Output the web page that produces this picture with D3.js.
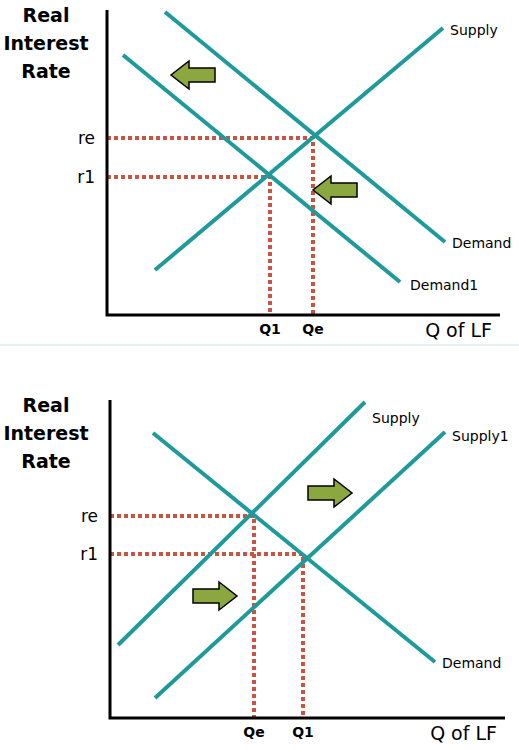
<!DOCTYPE html>
<html><head><meta charset="utf-8">
<script src="https://cdn.jsdelivr.net/npm/d3@7"></script>
<style>body{margin:0;background:#fff}text{font-family:"DejaVu Sans",sans-serif}</style>
</head><body>
<svg id="chart" width="519" height="750"></svg>
<script>
// curves: [name, x1, y1, x2, y2, labelX, labelY] in axis units
var topCurves = [["Supply",48,45,336,287,343,285],["Demand",58,303,338,73,345,72],["Demand1",16,260,293,33,303,30]];
var topPoints = [["re","Qe",206,177],["r1","Q1",163,138]];
var topArrows = [[86,240,-1],[228,125,-1]];

var botCurves = [["Supply",8,73,255,316,262,300],["Supply1",45,20,335,286,342,282],["Demand",43,285,325,56,332,55]];
var botPoints = [["re","Qe",144,202],["r1","Q1",193,164]];
var botArrows = [[220,225,1],[105,122,1]];

var svg = d3.select("#chart");
var teal = "#1f9a9c", red = "#c8553f", green = "#8aa83f";

svg.append("line").attr("x1",0).attr("x2",519).attr("y1",345).attr("y2",345).attr("stroke","#cfe4ec");

function panel(ox, oy, top, right, curves, points, arrows){
	var x = d3.scaleLinear().domain([0, right-ox]).range([ox, right]);
	var y = d3.scaleLinear().domain([0, oy-top]).range([oy, top]);
	var g = svg.append("g");

	g.append("text").attr("x",46).attr("y",top+12).attr("text-anchor","middle").attr("font-weight","bold").attr("font-size",19).text("Real");
	g.append("text").attr("x",46).attr("y",top+40).attr("text-anchor","middle").attr("font-weight","bold").attr("font-size",19).text("Interest");
	g.append("text").attr("x",46).attr("y",top+68).attr("text-anchor","middle").attr("font-weight","bold").attr("font-size",19).text("Rate");

	points.forEach(function(p){
		g.append("path").attr("d","M"+ox+","+y(p[3])+"H"+x(p[2])+"V"+oy)
			.attr("fill","none").attr("stroke",red).attr("stroke-width",4).attr("stroke-dasharray","4,3");
		g.append("text").attr("x",ox-12).attr("y",y(p[3])+6).attr("text-anchor","end").attr("font-size",17).text(p[0]);
		g.append("text").attr("x",x(p[2])).attr("y",oy+19).attr("text-anchor","middle").attr("font-size",14).attr("font-weight","bold").text(p[1]);
	});

	curves.forEach(function(c){
		g.append("line").attr("x1",x(c[1])).attr("y1",y(c[2])).attr("x2",x(c[3])).attr("y2",y(c[4]))
			.attr("stroke",teal).attr("stroke-width",4);
		g.append("text").attr("x",x(c[5])).attr("y",y(c[6])+5).attr("font-size",14).text(c[0]);
	});

	arrows.forEach(function(a){
		var cx = x(a[0]), cy = y(a[1]), d = a[2];
		var pts = [[-22,-7],[4,-7],[4,-14],[22,0],[4,14],[4,7],[-22,7]].map(function(p){return [cx+p[0]*d, cy+p[1]];});
		g.append("path").attr("d",d3.line()(pts)+"Z").attr("fill",green).attr("stroke","#000").attr("stroke-width",1.5);
	});

	g.append("path").attr("d","M"+ox+","+top+"V"+oy+"H"+right).attr("fill","none").attr("stroke","#000").attr("stroke-width",3);
	g.append("text").attr("x",right-8).attr("y",oy+22).attr("text-anchor","end").attr("font-size",19).text("Q of LF");
}

panel(107,315,10,500,topCurves,topPoints,topArrows);
panel(110,718,400,505,botCurves,botPoints,botArrows);
</script>
</body></html>
